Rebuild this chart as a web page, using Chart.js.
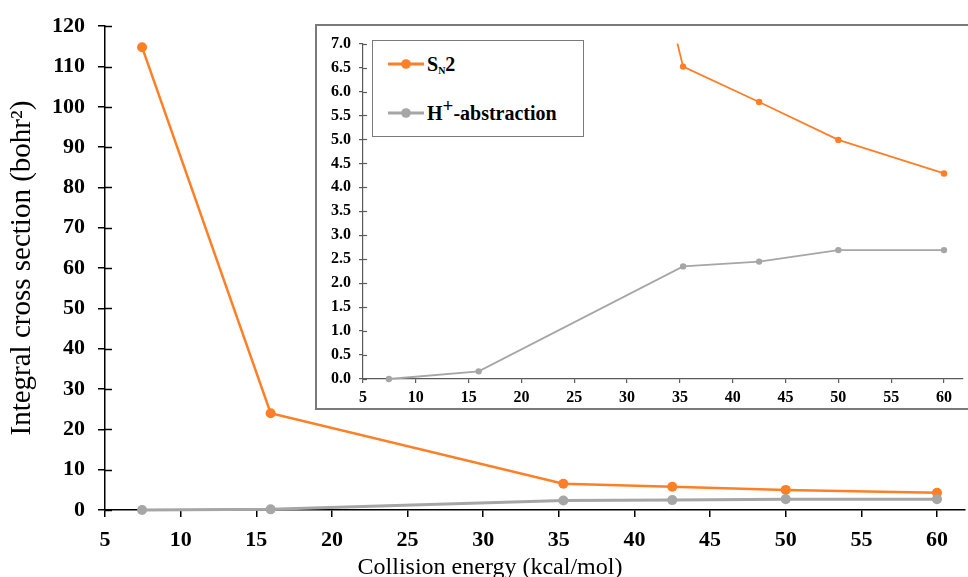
<!DOCTYPE html>
<html>
<head>
<meta charset="utf-8">
<script src="https://cdn.jsdelivr.net/npm/chart.js@4/dist/chart.umd.min.js"></script>
<style>
  html, body { margin:0; padding:0; background:#fff; width:968px; height:577px; overflow:hidden; }
  #main { position:absolute; left:0; top:0; }
  #insetBox { position:absolute; left:315px; top:24px; width:660px; height:382px; border:2px solid #7a7a7a; background:#fff; }
  #inset { position:absolute; left:0; top:0; }
  #xTitle { position:absolute; left:290px; width:400px; top:554px; text-align:center;
            font-family:"Liberation Serif", serif; font-size:24px; color:#000; line-height:24px; white-space:nowrap; }
  #legend { position:absolute; left:372px; top:40px; width:210px; height:95px; border:1.5px solid #7a7a7a; background:#fff;
            font-family:"Liberation Serif", serif; font-weight:bold; font-size:20px; color:#000; }
  .entry { position:absolute; left:14px; height:24px; display:flex; align-items:center; white-space:nowrap; }
  .entry svg { margin-right:2px; }
  .entry sub { font-size:10px; vertical-align:-3px; }
  .entry sup { font-size:19px; vertical-align:8px; line-height:0; }
</style>
</head>
<body>
<canvas id="main" width="968" height="577"></canvas>
<div id="insetBox"><canvas id="inset" width="660" height="382"></canvas></div>
<div id="legend">
  <div class="entry" style="top:11px;"><svg width="38" height="12"><line x1="1" y1="6" x2="37" y2="6" stroke="#FF7F27" stroke-width="3"/><circle cx="19" cy="6" r="4.8" fill="#FF7F27"/></svg><span>S<sub>N</sub>2</span></div>
  <div class="entry" style="top:60px;"><svg width="38" height="12"><line x1="1" y1="6" x2="37" y2="6" stroke="#A6A6A6" stroke-width="3"/><circle cx="19" cy="6" r="4.8" fill="#A6A6A6"/></svg><span>H<sup>+</sup>-abstraction</span></div>
</div>
<div id="xTitle">Collision energy (kcal/mol)</div>
<script>
// ---- data ----
const energies = [7.45, 15.95, 35.3, 42.5, 50, 60];          // kcal/mol
const sn2      = [114.8, 24.0, 6.52, 5.78, 4.99, 4.29];       // bohr^2
const hAbs     = [0.0, 0.16, 2.35, 2.45, 2.69, 2.69];         // bohr^2
const xTickValues     = [5, 10, 15, 20, 25, 30, 35, 40, 45, 50, 55, 60];
const mainYTickValues = [0, 10, 20, 30, 40, 50, 60, 70, 80, 90, 100, 110, 120];
const insetYTickValues = [0, 0.5, 1, 1.5, 2, 2.5, 3, 3.5, 4, 4.5, 5, 5.5, 6, 6.5, 7];
const seriesNames = ['SN2', 'H+-abstraction'];
const orange = '#FF7F27';
const grey = '#A6A6A6';

function pts(ys) { return energies.map((x, i) => ({ x: x, y: ys[i] })); }

// crossing tick marks on the inside of the y axis
const crossTicks = {
  id: 'crossTicks',
  afterDatasetsDraw(chart, args, opts) {
    const s = chart.scales.y, ctx = chart.ctx;
    ctx.save();
    ctx.strokeStyle = opts.color; ctx.lineWidth = opts.width;
    s.ticks.forEach(t => {
      const py = Math.round(s.getPixelForValue(t.value)) + 0.5;
      ctx.beginPath(); ctx.moveTo(s.right, py); ctx.lineTo(s.right + opts.len, py); ctx.stroke();
    });
    ctx.restore();
  }
};

// ---------------- main chart ----------------
new Chart(document.getElementById('main'), {
  type: 'line',
  data: {
    datasets: [
      { label: seriesNames[1], data: pts(hAbs), borderColor: grey, backgroundColor: grey,
        borderWidth: 3, pointRadius: 5, pointBackgroundColor: grey, pointBorderWidth: 0, clip: false },
      { label: seriesNames[0], data: pts(sn2), borderColor: orange, backgroundColor: orange,
        borderWidth: 2.5, pointRadius: 5, pointBackgroundColor: orange, pointBorderWidth: 0, clip: false }
    ]
  },
  options: {
    responsive: false, animation: false, devicePixelRatio: 1,
    layout: { autoPadding: false, padding: { left: 0, top: 24, right: 3, bottom: 0 } },
    plugins: { legend: { display: false }, tooltip: { enabled: false }, crossTicks: { color: '#000', width: 1.5, len: 7 } },
    elements: { line: { tension: 0 } },
    scales: {
      x: {
        type: 'linear', min: 5, max: 61.85,
        afterBuildTicks(s) { s.ticks = xTickValues.map(v => ({ value: v })); },
        afterFit(s) { s.height = 67; },
        grid: { display: true, drawOnChartArea: false, drawTicks: true, tickLength: 7, color: '#000', lineWidth: 1.5 },
        border: { display: true, color: '#000', width: 1.5 },
        ticks: { color: '#000', font: { family: 'Liberation Serif', weight: 'bold', size: 22 }, padding: 10, maxRotation: 0, autoSkip: false },
        title: { display: false }
      },
      y: {
        type: 'linear', min: 0, max: 120,
        afterBuildTicks(s) { s.ticks = mainYTickValues.map(v => ({ value: v })); },
        afterFit(s) { s.width = 105; },
        grid: { display: true, drawOnChartArea: false, drawTicks: true, tickLength: 7, color: '#000', lineWidth: 1.5 },
        border: { display: true, color: '#000', width: 1.5 },
        ticks: { color: '#000', font: { family: 'Liberation Serif', weight: 'bold', size: 22 }, padding: 13, autoSkip: false,
                 callback: v => String(v) },
        title: { display: true, text: 'Integral cross section (bohr\u00B2)', color: '#000',
                 font: { family: 'Liberation Serif', size: 29, weight: 'normal' }, padding: { top: 5, bottom: 0 } }
      }
    }
  },
  plugins: [crossTicks]
});

// ---------------- inset chart ----------------
new Chart(document.getElementById('inset'), {
  type: 'line',
  data: {
    datasets: [
      { label: seriesNames[1], data: pts(hAbs), borderColor: grey, backgroundColor: grey,
        borderWidth: 1.8, pointRadius: 3.2, pointBackgroundColor: grey, pointBorderWidth: 0,
        clip: { left: 6, right: 6, top: 0, bottom: 6 } },
      { label: seriesNames[0], data: pts(sn2), borderColor: orange, backgroundColor: orange,
        borderWidth: 1.8, pointRadius: 3.2, pointBackgroundColor: orange, pointBorderWidth: 0,
        clip: { left: 6, right: 6, top: 0, bottom: 6 } }
    ]
  },
  options: {
    responsive: false, animation: false, devicePixelRatio: 1,
    layout: { autoPadding: false, padding: { left: 0, top: 12, right: 14, bottom: 0 } },
    plugins: { legend: { display: false }, tooltip: { enabled: false }, crossTicks: { color: '#5a5a5a', width: 1.2, len: 4 } },
    elements: { line: { tension: 0 } },
    scales: {
      x: {
        type: 'linear', min: 5, max: 61.8,
        afterBuildTicks(s) { s.ticks = xTickValues.map(v => ({ value: v })); },
        afterFit(s) { s.height = 29; },
        grid: { display: true, drawOnChartArea: false, drawTicks: true, tickLength: 4, color: '#5a5a5a', lineWidth: 1.2 },
        border: { display: true, color: '#5a5a5a', width: 1.2 },
        ticks: { color: '#000', font: { family: 'Liberation Serif', weight: 'bold', size: 16 }, padding: 5, maxRotation: 0, autoSkip: false },
        title: { display: false }
      },
      y: {
        type: 'linear', min: 0, max: 7,
        afterBuildTicks(s) { s.ticks = insetYTickValues.map(v => ({ value: v })); },
        afterFit(s) { s.width = 46; },
        grid: { display: true, drawOnChartArea: false, drawTicks: true, tickLength: 4, color: '#5a5a5a', lineWidth: 1.2 },
        border: { display: true, color: '#5a5a5a', width: 1.2 },
        ticks: { color: '#000', font: { family: 'Liberation Serif', weight: 'bold', size: 16 }, padding: 8, autoSkip: false,
                 callback: v => Number(v).toFixed(1) },
        title: { display: false }
      }
    }
  },
  plugins: [crossTicks]
});
</script>
</body>
</html>
